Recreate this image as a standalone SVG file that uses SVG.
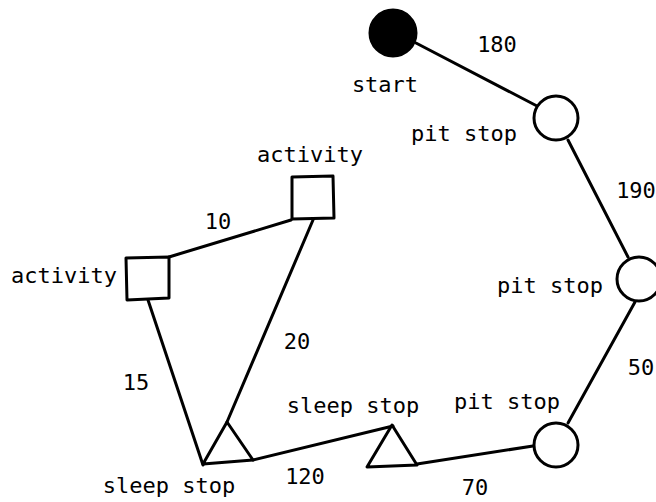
<svg xmlns="http://www.w3.org/2000/svg" width="656" height="502" viewBox="0 0 656 502">
  <style>
    .shape { fill: #fff; stroke: #000; stroke-width: 3; stroke-linejoin: round; stroke-linecap: round; }
    .filled { fill: #000; stroke: #000; stroke-width: 3; }
    .edge { fill: none; stroke: #000; stroke-width: 3; stroke-linecap: round; }
    text { font-family: "DejaVu Sans Mono", "Liberation Mono", monospace; font-size: 22px; fill: #000; text-anchor: middle; }
  </style>
  <rect width="656" height="502" fill="#fff"/>

  <!-- connectors with their weights -->
  <g id="edges">
    <path class="edge" d="M416,43 L537,106"/>
    <path class="edge" d="M568,140 L628,257"/>
    <path class="edge" d="M635,302 L568,423"/>
    <path class="edge" d="M533,446 L417,464"/>
    <path class="edge" d="M393,426 L253,460"/>
    <path class="edge" d="M227,422 L313,220"/>
    <path class="edge" d="M203,465 L148,300"/>
    <path class="edge" d="M169,257 L291,220"/>
    <text x="497" y="52">180</text>
    <text x="636" y="198">190</text>
    <text x="641" y="375">50</text>
    <text x="475" y="495">70</text>
    <text x="305" y="484">120</text>
    <text x="297" y="349">20</text>
    <text x="136" y="390">15</text>
    <text x="218" y="229">10</text>
  </g>

  <g id="start">
    <ellipse class="filled" cx="393" cy="33" rx="23" ry="23"/>
    <text x="385" y="92">start</text>
  </g>

  <g id="pit-stop-1">
    <ellipse class="shape" cx="556" cy="118" rx="22" ry="22"/>
    <text x="464" y="141">pit stop</text>
  </g>

  <g id="pit-stop-2">
    <ellipse class="shape" cx="639" cy="279" rx="22" ry="22"/>
    <text x="550" y="293">pit stop</text>
  </g>

  <g id="pit-stop-3">
    <ellipse class="shape" cx="556" cy="445" rx="22" ry="22"/>
    <text x="507" y="409">pit stop</text>
  </g>

  <g id="sleep-stop-2">
    <path class="shape" d="M392,425 L417,465 L367,467 Z"/>
    <text x="353" y="413">sleep stop</text>
  </g>

  <g id="sleep-stop-1">
    <path class="shape" d="M227,422 L253,460 L203,464 Z"/>
    <text x="169" y="493">sleep stop</text>
  </g>

  <g id="activity-1">
    <path class="shape" d="M126,258 L169,257 L169,298 L127,300 Z"/>
    <text x="64" y="283">activity</text>
  </g>

  <g id="activity-2">
    <path class="shape" d="M292,177 L333,176 L334,218 L292,219 Z"/>
    <text x="310" y="162">activity</text>
  </g>
</svg>
